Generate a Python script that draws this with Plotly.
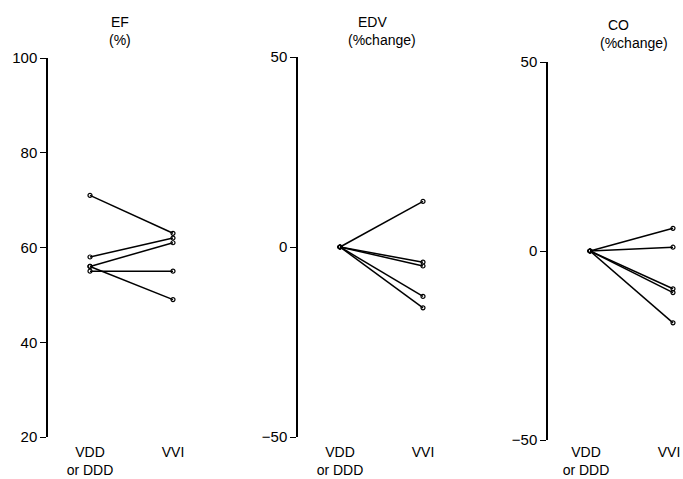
import plotly.graph_objects as go

# ---- data ----
categories = ["VDD<br>or DDD", "VVI"]
ef_before = [71, 58, 56, 55, 56]
ef_after = [63, 62, 61, 55, 49]
edv_before = [0, 0, 0, 0, 0]
edv_after = [12, -4, -5, -13, -16]
co_before = [0, 0, 0, 0, 0]
co_after = [6, 1, -10, -11, -19]

panel_titles = [("EF", "(%)"), ("EDV", "(%change)"), ("CO", "(%change)")]
y_ranges = [[20, 100], [-50, 50], [-50, 50]]
y_dticks = [20, 50, 50]

W, H = 683, 479
FONT = "Liberation Sans"

fig = go.Figure()

panels = [(ef_before, ef_after), (edv_before, edv_after), (co_before, co_after)]
axis_px = [48, 298, 548]           # pixel x of the y-axis line
y_px = [(58, 437), (57, 437), (62, 440)]  # pixel top/bottom of y-axis
px_per_cat = 83
left_off = 42
label_shift = [0, 0, -4]
label_standoff = [5, 5, 2]

for i, (before, after) in enumerate(panels):
    xa = "x" if i == 0 else f"x{i+1}"
    ya = "y" if i == 0 else f"y{i+1}"
    for b, a in zip(before, after):
        fig.add_trace(go.Scatter(
            x=categories, y=[b, a], xaxis=xa, yaxis=ya,
            mode="lines+markers",
            line=dict(color="black", width=1.5),
            marker=dict(symbol="circle-open", size=4, color="black",
                        line=dict(width=1.2, color="black")),
            showlegend=False, hoverinfo="skip", cliponaxis=False,
        ))

layout = dict(
    template="none",
    width=W, height=H,
    margin=dict(l=0, r=0, t=0, b=0, autoexpand=False),
    paper_bgcolor="white", plot_bgcolor="white",
    font=dict(family=FONT, size=14, color="black"),
    showlegend=False,
)

for i in range(3):
    A = axis_px[i]
    d0 = A / W
    d1 = min((A + 150) / W, 1.0)
    xmin = -left_off / px_per_cat
    xmax = xmin + (d1 - d0) * W / px_per_cat
    top, bot = y_px[i]
    suffix = "" if i == 0 else str(i + 1)
    layout["xaxis" + suffix] = dict(
        domain=[d0, d1], range=[xmin, xmax], type="category",
        showline=False, showgrid=False, zeroline=False, ticks="",
        tickfont=dict(family=FONT, size=14, color="black"),
        ticklabelstandoff=label_standoff[i], ticklabelshift=label_shift[i],
        anchor="y" + suffix, fixedrange=True, automargin=False,
    )
    layout["yaxis" + suffix] = dict(
        domain=[(H - bot) / H, (H - top) / H], range=y_ranges[i],
        dtick=y_dticks[i], tick0=y_ranges[i][0],
        showline=True, linecolor="black", linewidth=1.5,
        ticks="outside", ticklen=6, tickwidth=1.2, tickcolor="black",
        showgrid=False, zeroline=False,
        tickfont=dict(family=FONT, size=15, color="black"),
        anchor="x" + suffix, fixedrange=True, automargin=False,
    )

fig.update_layout(**layout)

title_pos = [((120, 22), (120, 40)), ((372, 22), (382, 40)), ((618, 25), (634, 43))]
for (t1, t2), ((x1, y1), (x2, y2)) in zip(panel_titles, title_pos):
    for txt, x, y in ((t1, x1, y1), (t2, x2, y2)):
        fig.add_annotation(
            text=txt, x=x / W, y=1 - y / H, xref="paper", yref="paper",
            xanchor="center", yanchor="middle", showarrow=False,
            font=dict(family=FONT, size=14, color="black"),
        )

fig.write_html("out.html", config={"displayModeBar": False},
               post_script="document.body.style.margin='0';")
